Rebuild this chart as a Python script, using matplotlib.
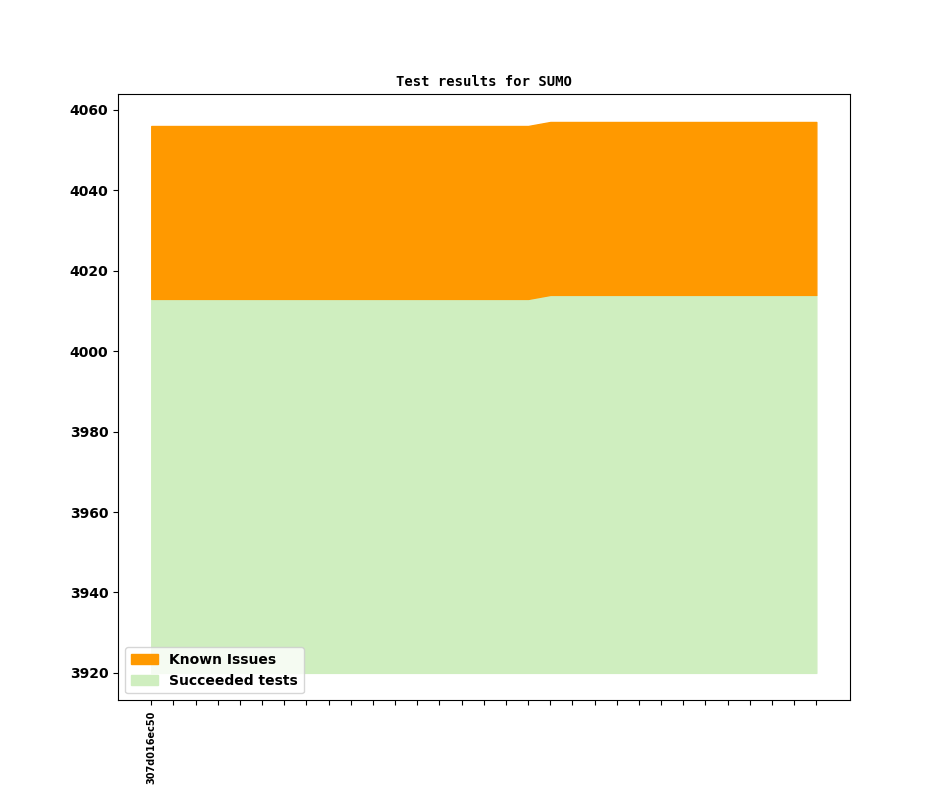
import matplotlib
matplotlib.use("Agg")
import matplotlib.pyplot as plt
import numpy as np

# Test runs (only the first commit id is shown on the axis)
commits = ["307d016ec50"] + [""] * 30
succeeded = [4013] * 18 + [4014] * 13
known_issues = [43] * 31
base = 3920


def main():
    x = np.arange(len(commits))
    succ = np.array(succeeded)
    total = succ + np.array(known_issues)

    fig, ax = plt.subplots(figsize=(9.44, 7.87), dpi=100)

    # Draw the stacked areas
    ax.fill_between(x, base, succ, color="#cfeebf", label="Succeeded tests")
    ax.fill_between(x, succ, total, color="#ff9900", label="Known Issues")

    ax.set_title("Test results for SUMO", family="DejaVu Sans Mono",
                 fontweight="bold", fontsize=10)
    ax.set_xticks(x)
    ax.set_xticklabels(commits, rotation=90, fontsize=7, fontweight="bold")
    for lbl in ax.get_yticklabels():
        lbl.set_fontweight("bold")

    handles, labels = ax.get_legend_handles_labels()
    ax.legend(handles[::-1], labels[::-1], loc="lower left",
              prop={"weight": "bold"})

    fig.savefig("out.png", dpi=100)


if __name__ == "__main__":
    main()
